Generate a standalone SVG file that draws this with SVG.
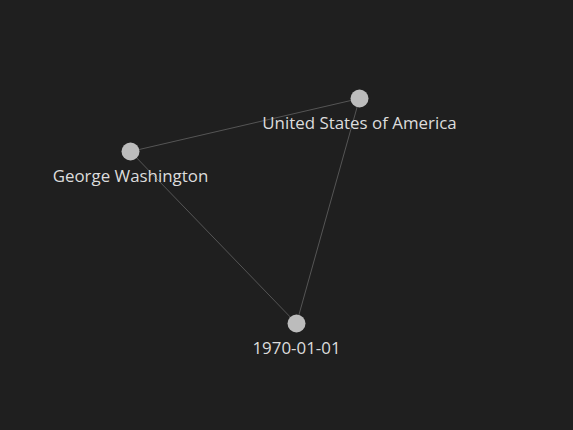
<svg xmlns="http://www.w3.org/2000/svg" width="573" height="430" viewBox="0 0 573 430">
<style>
.edge{stroke:#555;stroke-width:1;fill:none}
.node circle{fill:#bcbcbc}
.node text{fill:#dcdcdc;font-family:"Open Sans","Noto Sans",sans-serif;font-size:16.9px;text-anchor:middle}
</style>
<rect width="573" height="430" fill="#1f1f1f"/>
<g id="edges">
<line class="edge" x1="130.5" y1="151.5" x2="359.5" y2="98.5"/>
<line class="edge" x1="130.5" y1="151.5" x2="296.5" y2="323.5"/>
<line class="edge" x1="359.5" y1="98.5" x2="296.5" y2="323.5"/>
</g>
<g id="n-gw" class="node"><circle cx="130.5" cy="151.5" r="9"/><text x="130.5" y="181.5">George Washington</text></g>
<g id="n-usa" class="node"><circle cx="359.5" cy="98.5" r="9"/><text x="359.5" y="128.5">United States of America</text></g>
<g id="n-date" class="node"><circle cx="296.5" cy="323.5" r="9"/><text x="296.5" y="353.5">1970-01-01</text></g>
</svg>
